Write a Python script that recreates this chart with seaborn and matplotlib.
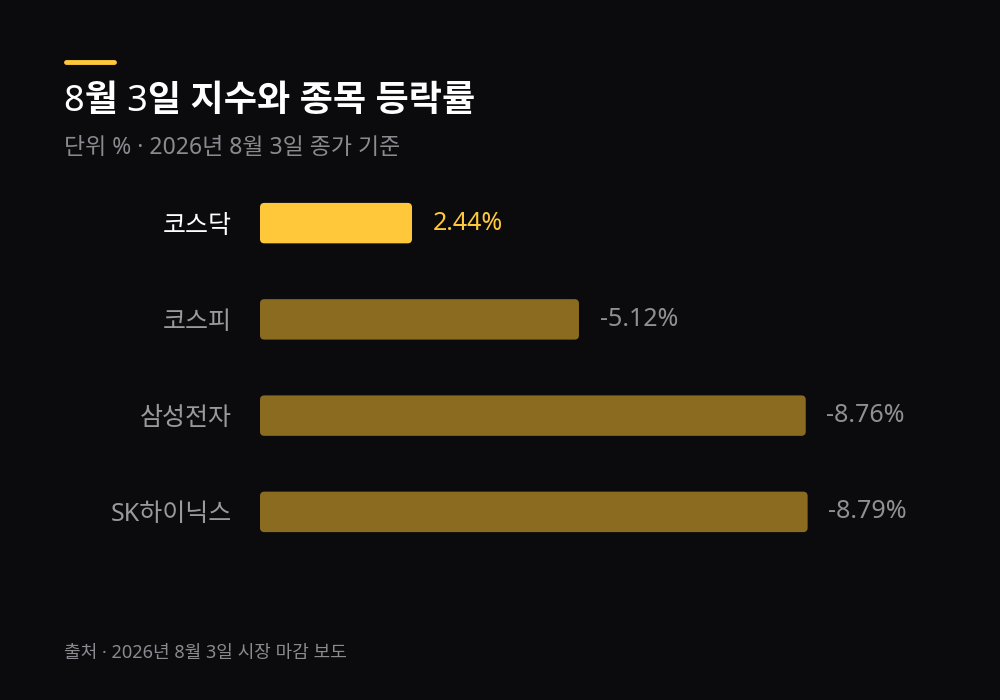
import matplotlib
matplotlib.use("Agg")
import matplotlib.pyplot as plt
import seaborn as sns
import pandas as pd
from matplotlib.patches import FancyBboxPatch

categories = ["코스닥", "코스피", "삼성전자", "SK하이닉스"]
values = [2.44, -5.12, -8.76, -8.79]
highlight = [True, False, False, False]

BG = "#0b0b0d"
HI = "#FFC83A"
LO = "#8B6B20"
sns.set_theme(style="white")
plt.rcParams['font.family'] = ['Noto Sans', 'Noto Sans CJK KR', 'DejaVu Sans']

fig = plt.figure(figsize=(10, 7), dpi=100, facecolor=BG)
ax = fig.add_axes([0.26, 1 - 560 / 700, 0.70, 385 / 700])
ax.set_facecolor(BG)
df = pd.DataFrame({"cat": categories, "abs": [abs(v) for v in values]})
sns.barplot(data=df, x="abs", y="cat", orient="h", ax=ax, width=0.42, saturation=1,
            palette=[HI if h else LO for h in highlight], hue="cat", legend=False)
ax.set_xlim(0, 700 / 62.3)
ax.set_ylim(3.5, -0.5)
patches = list(ax.patches)
for p in patches:
    x, y, w, h = p.get_x(), p.get_y(), p.get_width(), p.get_height()
    fc = p.get_facecolor()
    p.remove()
    ax.add_patch(FancyBboxPatch((x, y), w, h, boxstyle="round,pad=0,rounding_size=0.07",
                                mutation_aspect=0.65, fc=fc, ec="none"))
for i, (v, h) in enumerate(zip(values, highlight)):
    ax.text(abs(v) + 0.33, i, f"{v:.2f}%", va="center", ha="left", fontsize=18,
            fontweight="bold", color=HI if h else "#8f8f95")
ax.set_yticks(range(len(categories)))
ax.set_yticklabels(categories, fontsize=18)
for t, h in zip(ax.get_yticklabels(), highlight):
    t.set_color("white" if h else "#9a9a9a")
ax.tick_params(axis="y", length=0, pad=20)
ax.set_xticks([])
ax.set_xlabel(""); ax.set_ylabel("")
for s in ax.spines.values():
    s.set_visible(False)

fig.add_artist(plt.Line2D([0.066, 0.114], [1 - 62 / 700] * 2, color=HI, lw=3.5,
                          solid_capstyle="round"))
fig.text(0.064, 1 - 102 / 700, "8월 3일 지수와 종목 등락률", fontsize=26, fontweight="bold",
         color="white", va="center")
fig.text(0.064, 1 - 148 / 700, "단위 % · 2026년 8월 3일 종가 기준", fontsize=16.5,
         color="#8a8a90", va="center")
fig.text(0.064, 1 - 653 / 700, "출처 · 2026년 8월 3일 시장 마감 보도", fontsize=13,
         color="#8a8a90", va="center")
fig.savefig("out.png", facecolor=BG)
